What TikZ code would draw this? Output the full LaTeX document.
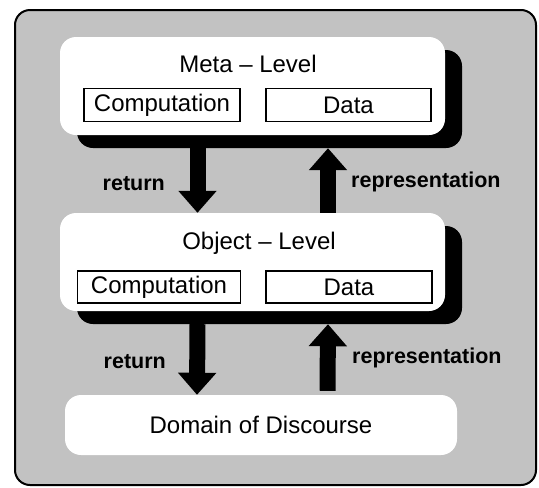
\documentclass[tikz,border=0pt]{standalone}
\usepackage{fontspec}
\setmainfont{Liberation Sans}
\usetikzlibrary{arrows.meta,shadows}
\begin{document}
\begin{tikzpicture}[x=1pt,y=-1pt,
  txt/.style={font=\fontsize{24}{26}\selectfont, inner sep=0pt},
  lbl/.style={font=\bfseries\fontsize{21.5}{24}\selectfont, inner sep=0pt},
  level/.style={draw=none, fill=white, rounded corners=16pt,
    minimum width=385pt, minimum height=98pt, inner sep=0pt,
    drop shadow={shadow xshift=17pt, shadow yshift=-13pt, fill=black, opacity=1}},
  part/.style={draw=black, line width=1.3pt, fill=white, inner sep=0pt,
    font=\fontsize{24}{26}\selectfont},
  bigarrow/.style={line width=16pt, -{Triangle[width=37pt,length=22pt]}}
]
\useasboundingbox (0,0) rectangle (539,488);
% stippled backdrop with rounded frame
\draw[line width=2pt, rounded corners=15pt, fill=black!24] (15,10) rectangle (536,485);

% meta level
\node[level] (meta) at (252.5,86) {};
\node[txt] (metatitle) at (248,64) {Meta – Level};
\node[part, minimum width=156pt, minimum height=33pt] (mcomp) at (162,105) {Computation};
\node[part, minimum width=165pt, minimum height=33pt] (mdata) at (348.5,105) {Data};

% object level
\node[level] (obj) at (252.5,262) {};
\node[txt] (objtitle) at (259,243) {Object – Level};
\node[part, minimum width=163pt, minimum height=32pt] (ocomp) at (159,287) {Computation};
\node[part, minimum width=166pt, minimum height=32pt] (odata) at (349,287) {Data};

% domain of discourse
\node[fill=white, rounded corners=16pt, minimum width=392pt, minimum height=60pt,
      inner sep=0pt, txt] (dom) at (261,425) {Domain of Discourse};

% connectors between the levels
\draw[bigarrow] ([xshift=-55pt,yshift=-13pt]meta.south) -- ([xshift=-55pt]obj.north);
\draw[bigarrow] ([xshift=75.5pt]obj.north) -- ([xshift=75.5pt,yshift=-13pt]meta.south);
\draw[bigarrow] ([xshift=-55pt,yshift=-13pt]obj.south) -- ([xshift=-64pt]dom.north);
\draw[bigarrow] ([xshift=66.5pt,yshift=4pt]dom.north) -- ([xshift=75.5pt,yshift=-13pt]obj.south);

% labels
\node[lbl, anchor=east] (ret1) at (165,184) {return};
\node[lbl, anchor=west] (rep1) at (351,182) {representation};
\node[lbl, anchor=east] (ret2) at (166,362) {return};
\node[lbl, anchor=west] (rep2) at (352,358) {representation};
\end{tikzpicture}
\end{document}
